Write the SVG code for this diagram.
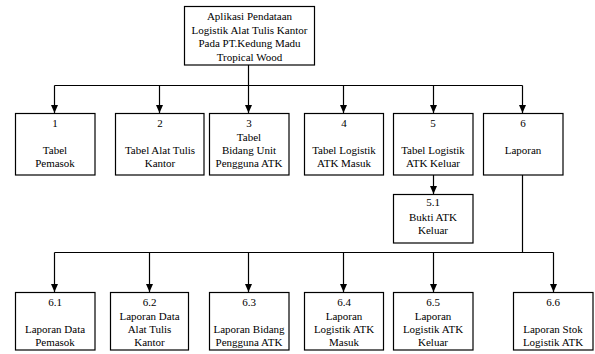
<svg xmlns="http://www.w3.org/2000/svg" width="595" height="354" viewBox="0 0 595 354">
<defs>
<marker id="arr" viewBox="0 0 8 8" refX="8" refY="4" markerWidth="8" markerHeight="8" markerUnits="userSpaceOnUse" orient="auto">
<path d="M0,0.5 L8,4 L0,7.5 Z" fill="#000"/>
</marker>
<style>
.box{fill:#fff;stroke:#000;stroke-width:1.2}
.t{font-size:11px;text-anchor:middle;fill:#000}
.c{fill:none;stroke:#000;stroke-width:1.2}
.a{fill:none;stroke:#000;stroke-width:1.2;marker-end:url(#arr)}
</style>
</defs>
<rect width="595" height="354" fill="#fff"/>
<g id="connectors">
<path class="c" d="M248.5,65 V85.5 M54.5,85.5 H522.5"/>
<path class="a" d="M54.5,85.5 V113"/>
<path class="a" d="M159.5,85.5 V113"/>
<path class="a" d="M248.5,85.5 V113"/>
<path class="a" d="M343.5,85.5 V113"/>
<path class="a" d="M433.5,85.5 V113"/>
<path class="a" d="M522.5,85.5 V113"/>
<path class="a" d="M433.5,175 V194"/>
<path class="c" d="M522.5,175 V252.5 M54.5,252.5 H553.5"/>
<path class="a" d="M54.5,252.5 V292"/>
<path class="a" d="M149.5,252.5 V292"/>
<path class="a" d="M248.5,252.5 V292"/>
<path class="a" d="M343.5,252.5 V292"/>
<path class="a" d="M433.5,252.5 V292"/>
<path class="a" d="M553.5,252.5 V292"/>
</g>
<g font-family="'Liberation Serif', 'Times New Roman', 'DejaVu Serif', serif">
<g id="n0">
<rect class="box" x="184.5" y="6.5" width="130" height="58.5"/>
<text class="t" x="249.5" y="20">Aplikasi Pendataan</text>
<text class="t" x="249.5" y="33.5">Logistik Alat Tulis Kantor</text>
<text class="t" x="249.5" y="47">Pada PT.Kedung Madu</text>
<text class="t" x="249.5" y="60.5">Tropical Wood</text>
</g>
<g id="n1">
<rect class="box" x="15.5" y="113.5" width="79.5" height="61.5"/>
<text class="t" x="55" y="127">1</text>
<text class="t" x="55" y="154">Tabel</text>
<text class="t" x="55" y="167">Pemasok</text>
</g>
<g id="n2">
<rect class="box" x="115.5" y="113.5" width="88.5" height="61.5"/>
<text class="t" x="160" y="127">2</text>
<text class="t" x="160" y="154">Tabel Alat Tulis</text>
<text class="t" x="160" y="167">Kantor</text>
</g>
<g id="n3">
<rect class="box" x="209.5" y="113.5" width="79.5" height="61.5"/>
<text class="t" x="249" y="127">3</text>
<text class="t" x="249" y="140.5">Tabel</text>
<text class="t" x="249" y="154">Bidang Unit</text>
<text class="t" x="249" y="167">Pengguna ATK</text>
</g>
<g id="n4">
<rect class="box" x="304.5" y="113.5" width="79" height="61.5"/>
<text class="t" x="344" y="127">4</text>
<text class="t" x="344" y="154">Tabel Logistik</text>
<text class="t" x="344" y="167">ATK Masuk</text>
</g>
<g id="n5">
<rect class="box" x="393.5" y="113.5" width="79.5" height="61.5"/>
<text class="t" x="433" y="127">5</text>
<text class="t" x="433" y="154">Tabel Logistik</text>
<text class="t" x="433" y="167">ATK Keluar</text>
</g>
<g id="n6">
<rect class="box" x="483.5" y="113.5" width="79.5" height="61.5"/>
<text class="t" x="523" y="127">6</text>
<text class="t" x="523" y="154">Laporan</text>
</g>
<g id="n51">
<rect class="box" x="393.5" y="194.5" width="79.5" height="48.5"/>
<text class="t" x="433" y="206">5.1</text>
<text class="t" x="433" y="220.5">Bukti ATK</text>
<text class="t" x="433" y="234">Keluar</text>
</g>
<g id="n61">
<rect class="box" x="15.5" y="292.5" width="79.5" height="57.5"/>
<text class="t" x="55" y="306">6.1</text>
<text class="t" x="55" y="333">Laporan Data</text>
<text class="t" x="55" y="346">Pemasok</text>
</g>
<g id="n62">
<rect class="box" x="110.5" y="292.5" width="78" height="57.5"/>
<text class="t" x="149.5" y="306">6.2</text>
<text class="t" x="149.5" y="319.5">Laporan Data</text>
<text class="t" x="149.5" y="333">Alat Tulis</text>
<text class="t" x="149.5" y="346">Kantor</text>
</g>
<g id="n63">
<rect class="box" x="209.5" y="292.5" width="79.5" height="57.5"/>
<text class="t" x="249" y="306">6.3</text>
<text class="t" x="249" y="333">Laporan Bidang</text>
<text class="t" x="249" y="346">Pengguna ATK</text>
</g>
<g id="n64">
<rect class="box" x="304.5" y="292.5" width="79" height="57.5"/>
<text class="t" x="344" y="306">6.4</text>
<text class="t" x="344" y="319.5">Laporan</text>
<text class="t" x="344" y="333">Logistik ATK</text>
<text class="t" x="344" y="346">Masuk</text>
</g>
<g id="n65">
<rect class="box" x="393.5" y="292.5" width="79.5" height="57.5"/>
<text class="t" x="433" y="306">6.5</text>
<text class="t" x="433" y="319.5">Laporan</text>
<text class="t" x="433" y="333">Logistik ATK</text>
<text class="t" x="433" y="346">Keluar</text>
</g>
<g id="n66">
<rect class="box" x="513.5" y="292.5" width="79.5" height="57.5"/>
<text class="t" x="553" y="306">6.6</text>
<text class="t" x="553" y="333">Laporan Stok</text>
<text class="t" x="553" y="346">Logistik ATK</text>
</g>
</g>
</svg>
